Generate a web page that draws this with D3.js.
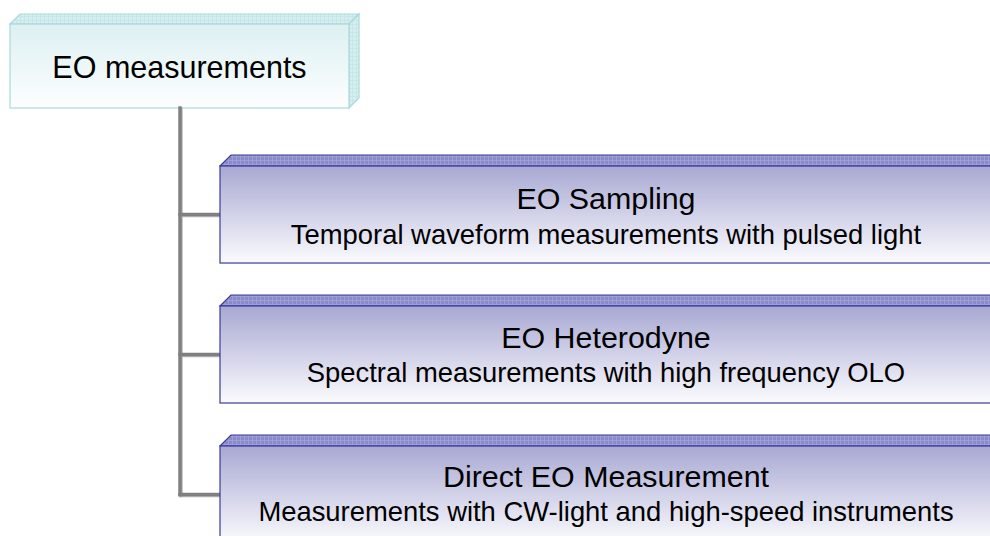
<!DOCTYPE html>
<html><head><meta charset="utf-8">
<script src="https://cdn.jsdelivr.net/npm/d3@7"></script>
<style>body{margin:0;background:#fff}svg{display:block}text{font-family:Arial,"Liberation Sans",sans-serif;fill:#000}</style>
</head><body>
<script>
const rootLabel = "EO measurements";
const childTitles = ["EO Sampling", "EO Heterodyne", "Direct EO Measurement"];
const childSubtitles = [
  "Temporal waveform measurements with pulsed light",
  "Spectral measurements with high frequency OLO",
  "Measurements with CW-light and high-speed instruments"
];

const W = 990, H = 536;
const svg = d3.select("body").append("svg").attr("width", W).attr("height", H);
const defs = svg.append("defs");

function grid(id, bg, line) {
  const p = defs.append("pattern").attr("id", id).attr("patternUnits", "userSpaceOnUse")
    .attr("width", 4).attr("height", 4);
  p.append("rect").attr("width", 4).attr("height", 4).attr("fill", bg);
  p.append("path").attr("d", "M0,0.5H4M0.5,0V4").attr("stroke", line).attr("stroke-width", 0.8);
}
grid("gBlue", "#8a8acb", "#a3a3da");
grid("gTeal", "#d6eef0", "#c3e3e6");

function vgrad(id, top, bottom) {
  const g = defs.append("linearGradient").attr("id", id).attr("x1", 0).attr("y1", 0).attr("x2", 0).attr("y2", 1);
  g.append("stop").attr("offset", "0%").attr("stop-color", top);
  g.append("stop").attr("offset", "100%").attr("stop-color", bottom);
}
vgrad("fBlue", "#a8a8d3", "#fbfbfe");
vgrad("fTeal", "#ddf0f2", "#fdfefe");

// layout scales
const rows = d3.scaleBand().domain(childTitles).range([166, 543]).paddingInner(0.307).paddingOuter(0);
const x = d3.scaleLinear().domain([0, 1]).range([220, 1000]); // child box horizontal extent
const depth = 11;

// root box
const rx0 = 10, rx1 = 349, ry0 = 24, ry1 = 108, rd = 10;
const root = svg.append("g");
root.append("path").attr("d", `M${rx0},${ry0}L${rx0+rd},${ry0-rd}L${rx1+rd},${ry0-rd}L${rx1},${ry0}Z`)
  .attr("fill", "url(#gTeal)").attr("stroke", "#a9d9dc").attr("stroke-width", 1.2);
root.append("path").attr("d", `M${rx1},${ry0}L${rx1+rd},${ry0-rd}L${rx1+rd},${ry1-rd}L${rx1},${ry1}Z`)
  .attr("fill", "url(#gTeal)").attr("stroke", "#a9d9dc").attr("stroke-width", 1.2);
root.append("rect").attr("x", rx0).attr("y", ry0).attr("width", rx1 - rx0).attr("height", ry1 - ry0)
  .attr("fill", "url(#fTeal)").attr("stroke", "#a9d9dc").attr("stroke-width", 1.2);
root.append("text").attr("x", 179.5).attr("y", 77.7).attr("text-anchor", "middle")
  .attr("font-size", 30.5).text(rootLabel);

// connectors
const cx = 180;
const lastY = rows(childTitles[childTitles.length - 1]) + rows.bandwidth() / 2;
const conn = svg.append("g").attr("fill", "none").attr("stroke-linecap", "square");
const connPath = "M" + cx + "," + ry1 + "V" + lastY;
conn.append("path").attr("d", connPath).attr("stroke", "#b8b8b8").attr("stroke-width", 3.5).attr("transform", "translate(1,1)");
childTitles.forEach(t => {
  const y = rows(t) + rows.bandwidth() / 2;
  conn.append("path").attr("d", `M${cx},${y}H${x(0)}`).attr("stroke", "#b8b8b8").attr("stroke-width", 3.5).attr("transform", "translate(1,1)");
});
conn.append("path").attr("d", connPath).attr("stroke", "#808080").attr("stroke-width", 3.5);
childTitles.forEach(t => {
  const y = rows(t) + rows.bandwidth() / 2;
  conn.append("path").attr("d", `M${cx},${y}H${x(0)}`).attr("stroke", "#808080").attr("stroke-width", 3.5);
});

// child boxes
const boxes = svg.selectAll("g.child").data(childTitles).join("g").attr("class", "child");
boxes.append("path")
  .attr("d", d => { const y = rows(d); return `M${x(0)},${y}L${x(0)+depth},${y-depth}L${x(1)+depth},${y-depth}L${x(1)},${y}Z`; })
  .attr("fill", "url(#gBlue)").attr("stroke", "#3a3a9a").attr("stroke-width", 1.2);
boxes.append("rect").attr("x", x(0)).attr("y", d => rows(d)).attr("width", x(1) - x(0)).attr("height", rows.bandwidth())
  .attr("fill", "url(#fBlue)").attr("stroke", "#3a3a9a").attr("stroke-width", 1.2);
const tcx = 606;
boxes.append("text").attr("x", tcx).attr("y", (d, i) => rows(d) + 43 - i).attr("text-anchor", "middle")
  .attr("font-size", 30.4).text(d => d);
boxes.append("text").attr("x", tcx).attr("y", (d, i) => rows(d) + 77.5 - i).attr("text-anchor", "middle")
  .attr("font-size", 27.4).text((d, i) => childSubtitles[i]);
</script>
</body></html>
